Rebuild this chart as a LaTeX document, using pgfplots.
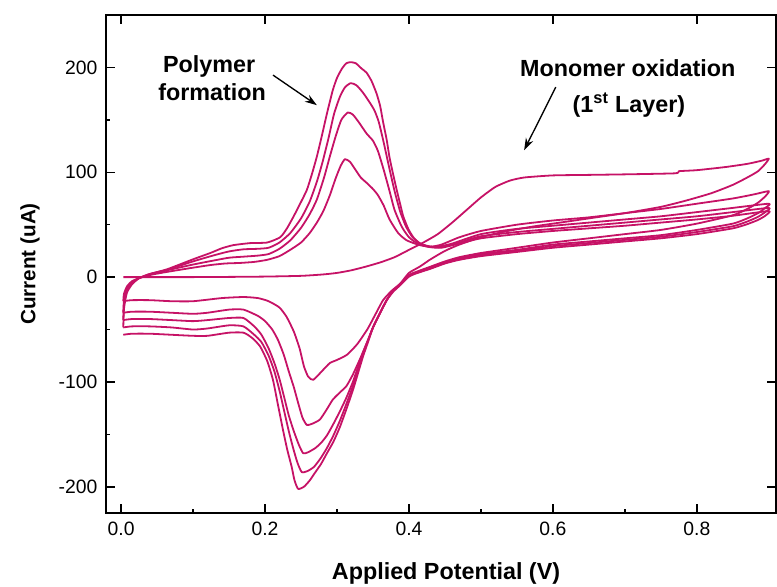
\documentclass[border=0pt]{standalone}
\usepackage{fontspec}
\setmainfont{Liberation Sans}
\usepackage{pgfplots}
\pgfplotsset{compat=1.18}
\usetikzlibrary{arrows.meta}
\definecolor{cv}{RGB}{198,18,102}

\begin{document}
\begin{tikzpicture}
\useasboundingbox (0,0) rectangle (582.75pt,439.5pt);
\pgfplotsset{
  cvbase/.style={
    at={(79.5pt,54.75pt)}, anchor=south west,
    scale only axis, width=502.5pt, height=373.5pt,
    xmin=-0.021, xmax=0.91, ymin=-225, ymax=250,
    axis line style={line width=1.2pt},
    tick style={line width=1.1pt, black},
    tick align=inside,
    major tick length=6.5pt, minor tick length=3pt,
    xtick={0,0.2,0.4,0.6,0.8},
    ytick={-200,-100,0,100,200},
  },
  cvline/.style={draw=cv, line width=1.35pt, mark=none, line join=round, smooth, tension=0.35},
}
% top and right ticks (majors only)
\begin{axis}[cvbase,
  xtick pos=right, ytick pos=right,
  xticklabels={}, yticklabels={}, minor tick num=0]
\end{axis}

\begin{axis}[cvbase,
  xtick pos=left, ytick pos=left,
  minor x tick num=1, minor y tick num=1,
  xticklabels={0.0,0.2,0.4,0.6,0.8},
  /pgf/number format/assume math mode=true,
  tick label style={font=\fontsize{14.5}{17}\selectfont},
  xticklabel style={yshift=-3pt},
  yticklabel style={xshift=-3pt},
]
% cycle 1
\addplot[cvline] coordinates {
(0.003,0) (0.05,0) (0.1,0) (0.15,0.2) (0.2,0.5) (0.25,1.2) (0.28,2.5) (0.3,4) (0.32,6.5) (0.34,10)
(0.36,14) (0.38,19) (0.4,26) (0.42,33) (0.44,41) (0.46,52) (0.48,64) (0.5,76) (0.52,86) (0.54,92)
(0.56,95) (0.6,97) (0.65,97.5) (0.7,98) (0.77,99) (0.775,101) (0.8,102) (0.84,105) (0.87,108) (0.89,111) (0.9,113)
(0.895,108) (0.885,101) (0.87,95) (0.85,88) (0.82,80) (0.785,73) (0.75,67) (0.7,61) (0.65,56) (0.61,52)
(0.57,48) (0.53,43) (0.5,38) (0.47,31) (0.45,25) (0.43,17) (0.415,10) (0.4,4) (0.388,-6) (0.376,-13)
(0.364,-22) (0.353,-36) (0.342,-50) (0.328,-64) (0.314,-74) (0.3,-79) (0.29,-82) (0.28,-89) (0.267,-98)
(0.26,-95) (0.254,-85) (0.248,-68) (0.24,-52) (0.23,-38) (0.22,-29) (0.205,-23) (0.19,-20) (0.17,-19)
(0.14,-20) (0.1,-23) (0.07,-23) (0.04,-22) (0.015,-22) (0.003,-23)
};
% cycle 2
\addplot[cvline] coordinates {
(0.003,-23) (0.004,-16) (0.008,-9) (0.015,-4) (0.025,-1) (0.04,2) (0.064,5) (0.1,9) (0.124,11.5) (0.145,13)
(0.165,13.5) (0.185,14.5) (0.203,16.5) (0.22,20) (0.235,26) (0.25,33) (0.262,42) (0.272,52) (0.281,63)
(0.29,78) (0.298,94) (0.305,106) (0.311,112.5) (0.318,110) (0.325,103) (0.333,95) (0.341,90) (0.35,84)
(0.357,78) (0.365,68) (0.373,55) (0.385,42) (0.397,35) (0.415,30.5) (0.43,29) (0.445,31) (0.47,38)
(0.5,44) (0.55,50) (0.6,54) (0.65,57) (0.7,61) (0.75,65) (0.8,70) (0.85,75) (0.88,79) (0.9,82)
(0.895,77) (0.885,71) (0.87,65) (0.85,59) (0.8,51) (0.75,45) (0.7,41) (0.65,37) (0.6,33) (0.55,28)
(0.5,23) (0.47,19) (0.45,15) (0.43,10) (0.41,5) (0.4,2) (0.388,-7) (0.378,-13) (0.369,-22) (0.36,-34)
(0.35,-48) (0.342,-62) (0.332,-78) (0.322,-93) (0.313,-104) (0.304,-110) (0.294,-117) (0.285,-127)
(0.276,-136) (0.265,-140) (0.258,-141) (0.252,-134) (0.246,-120) (0.24,-105) (0.233,-90) (0.226,-74)
(0.218,-60) (0.21,-50) (0.2,-42) (0.19,-37) (0.17,-31) (0.15,-31) (0.12,-34) (0.1,-35) (0.07,-34)
(0.04,-33) (0.015,-33) (0.003,-34)
};
% cycle 3
\addplot[cvline] coordinates {
(0.003,-34) (0.004,-22) (0.008,-11) (0.015,-5) (0.025,-1) (0.04,2.5) (0.064,6.5) (0.1,12) (0.13,16)
(0.15,18.5) (0.17,19.5) (0.19,20.5) (0.205,22) (0.22,27) (0.235,35) (0.25,47) (0.262,60) (0.272,74)
(0.282,95) (0.29,115) (0.298,134) (0.306,150) (0.315,157) (0.322,155) (0.33,148) (0.341,137) (0.35,130)
(0.357,120) (0.365,102) (0.373,82) (0.38,64) (0.39,48) (0.4,38) (0.412,32) (0.425,29.5) (0.44,29)
(0.46,32) (0.5,41) (0.55,46) (0.6,49) (0.65,52) (0.7,55) (0.75,58) (0.8,62) (0.85,66) (0.9,70)
(0.895,66) (0.885,61) (0.87,56) (0.85,51) (0.8,45) (0.75,40) (0.7,37) (0.65,34) (0.6,31) (0.55,26)
(0.5,22) (0.47,18) (0.45,14) (0.43,9) (0.41,4.5) (0.4,1.5) (0.388,-7) (0.378,-13) (0.369,-22) (0.36,-34)
(0.35,-48) (0.343,-60) (0.336,-72) (0.329,-86) (0.322,-100) (0.313,-115) (0.304,-128) (0.295,-140)
(0.286,-151) (0.278,-158) (0.27,-163) (0.26,-167) (0.253,-168) (0.247,-160) (0.24,-147) (0.233,-132)
(0.226,-113) (0.22,-97) (0.213,-82) (0.205,-68) (0.195,-55) (0.185,-47) (0.17,-39) (0.15,-39)
(0.12,-41) (0.1,-42) (0.07,-41) (0.04,-40) (0.015,-40) (0.003,-41)
};
% cycle 4
\addplot[cvline] coordinates {
(0.003,-41) (0.004,-26) (0.008,-13) (0.015,-6) (0.025,-1) (0.04,3) (0.064,7) (0.1,15) (0.13,21)
(0.15,24.5) (0.17,26.5) (0.19,27) (0.205,28) (0.22,33) (0.235,42) (0.25,56) (0.262,72) (0.272,91)
(0.28,110) (0.288,132) (0.296,156) (0.304,172) (0.311,181) (0.319,185) (0.327,183) (0.336,176)
(0.345,167) (0.352,159) (0.358,148) (0.365,128) (0.372,106) (0.38,82) (0.388,62) (0.396,48) (0.405,38)
(0.416,32) (0.43,29) (0.445,28.5) (0.47,33) (0.5,39) (0.55,43) (0.6,46) (0.65,49) (0.7,52) (0.75,55)
(0.8,58) (0.85,62) (0.9,66)
(0.895,62) (0.885,57.5) (0.87,53) (0.85,48.5) (0.8,43) (0.75,38.5) (0.7,35.5) (0.65,32.5) (0.6,29.5)
(0.55,25) (0.5,21) (0.47,17) (0.45,13.5) (0.43,8.5) (0.41,4) (0.4,1) (0.388,-7) (0.378,-13) (0.369,-22)
(0.36,-34) (0.35,-48) (0.343,-61) (0.336,-74) (0.329,-89) (0.322,-104) (0.313,-121) (0.304,-137)
(0.295,-151) (0.286,-163) (0.277,-173) (0.268,-181) (0.259,-185) (0.251,-186) (0.245,-177) (0.239,-163)
(0.233,-147) (0.226,-126) (0.22,-108) (0.213,-90) (0.205,-75) (0.195,-62) (0.185,-55) (0.17,-47)
(0.15,-46) (0.12,-49) (0.1,-50) (0.07,-48) (0.04,-47) (0.015,-47) (0.003,-48)
};
% cycle 5
\addplot[cvline] coordinates {
(0.003,-48) (0.004,-30) (0.008,-15) (0.015,-7) (0.025,-1) (0.04,3) (0.064,7.5) (0.1,17) (0.124,23)
(0.14,27.5) (0.156,30.5) (0.179,32.4) (0.203,33) (0.221,38) (0.23,46) (0.239,57) (0.248,69) (0.258,83)
(0.265,98) (0.272,115) (0.279,135) (0.286,156) (0.294,178) (0.3,190) (0.307,199) (0.313,204) (0.319,205)
(0.326,204) (0.334,199) (0.341,195) (0.348,187) (0.355,175) (0.36,163) (0.364,148) (0.369,131)
(0.373,114) (0.378,98) (0.383,83) (0.388,69) (0.392,58) (0.399,46) (0.406,38) (0.413,33) (0.42,30)
(0.43,28.5) (0.445,28) (0.47,32) (0.5,37) (0.55,41) (0.6,44) (0.65,46.5) (0.7,49) (0.75,52) (0.8,55)
(0.85,58.5) (0.9,63)
(0.895,58.5) (0.885,54.5) (0.87,50.5) (0.85,46.5) (0.8,41) (0.75,37) (0.7,34) (0.65,31) (0.6,28)
(0.55,24) (0.5,20) (0.47,16.5) (0.45,13) (0.43,8) (0.41,3.5) (0.4,0.5) (0.388,-7.6) (0.378,-14)
(0.369,-22) (0.36,-34) (0.35,-48) (0.343,-62) (0.336,-76) (0.329,-92) (0.322,-108) (0.313,-126)
(0.304,-143) (0.295,-157) (0.286,-168) (0.278,-178) (0.27,-186) (0.262,-194) (0.254,-200) (0.246,-202)
(0.241,-194) (0.237,-181) (0.231,-165) (0.225,-146) (0.218,-122) (0.211,-98) (0.203,-80) (0.193,-66)
(0.182,-58) (0.17,-53) (0.15,-53) (0.12,-56) (0.1,-56) (0.07,-55) (0.04,-54) (0.015,-54) (0.003,-55)
};

% annotations
\node[anchor=base, font=\fontsize{17.5}{21}\selectfont\bfseries] at (axis cs:0.1222,195.5) {Polymer};
\node[anchor=base, font=\fontsize{17.5}{21}\selectfont\bfseries] at (axis cs:0.1264,168.8) {formation};
\draw[-{Stealth[length=9pt,width=6pt]}, line width=1pt] (axis cs:0.211,192.7) -- (axis cs:0.272,164);
\node[anchor=base, font=\fontsize{17.5}{21}\selectfont\bfseries] at (axis cs:0.704,191.7) {Monomer oxidation};
\node[anchor=base, font=\fontsize{17.5}{21}\selectfont\bfseries] at (axis cs:0.7056,157.4) {(1\textsuperscript{st} Layer)};
\draw[-{Stealth[length=9pt,width=6pt]}, line width=1pt] (axis cs:0.604,181.2) -- (axis cs:0.56,121.1);
\end{axis}

% axis labels
\node[font=\fontsize{17.5}{21}\selectfont\bfseries] at (334.5pt,9.75pt) {Applied Potential (V)};
\node[rotate=90, font=\fontsize{15.5}{18}\selectfont\bfseries] at (22.5pt,241.5pt) {Current (uA)};
\end{tikzpicture}
\end{document}
